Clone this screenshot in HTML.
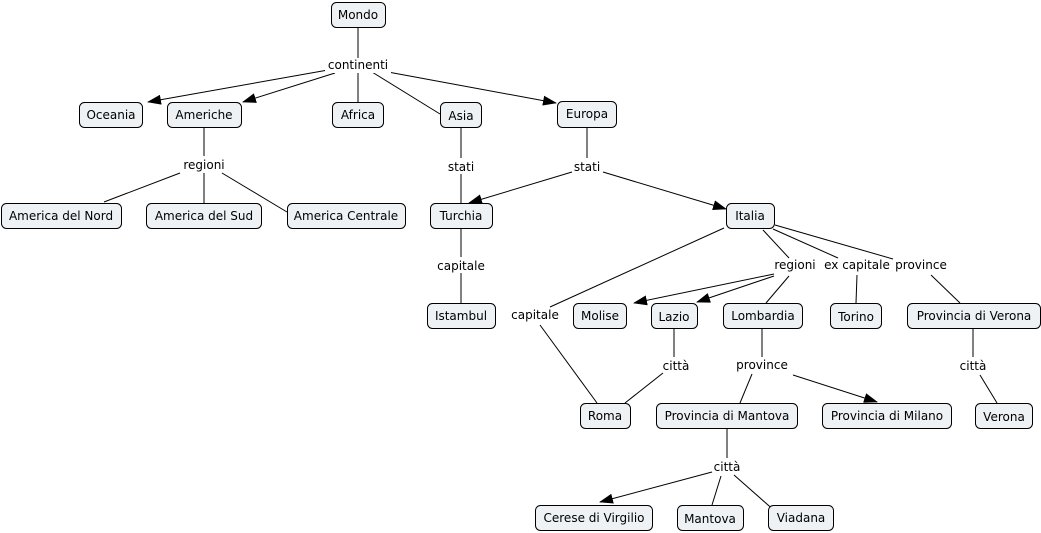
<!DOCTYPE html>
<html><head><meta charset="utf-8"><style>
html,body{margin:0;padding:0;background:#fff;}
svg{display:block;}
text{font-family:"DejaVu Sans","Liberation Sans",sans-serif;font-size:12px;fill:#000;}
.n{fill:#eef2f5;stroke:#000;stroke-width:1;}
line{stroke:#000;stroke-width:1;}
</style></head><body>
<svg width="1041" height="533" viewBox="0 0 1041 533">
<defs><marker id="a" markerWidth="14" markerHeight="10" refX="13" refY="5" orient="auto" markerUnits="userSpaceOnUse"><path d="M0,0 L14,5 L0,10 z" fill="#000"/></marker></defs>
<g>
<line x1="358" y1="27" x2="358" y2="58"/>
<line x1="328" y1="70" x2="148" y2="102" marker-end="url(#a)"/>
<line x1="335" y1="73" x2="243" y2="102" marker-end="url(#a)"/>
<line x1="358" y1="72" x2="358" y2="102"/>
<line x1="372" y1="72" x2="440" y2="114"/>
<line x1="388" y1="72" x2="556" y2="103" marker-end="url(#a)"/>
<line x1="204" y1="127" x2="204" y2="156"/>
<line x1="180" y1="173" x2="104" y2="202"/>
<line x1="204" y1="173" x2="204" y2="203"/>
<line x1="222" y1="173" x2="287" y2="212"/>
<line x1="461" y1="127" x2="461" y2="158"/>
<line x1="461" y1="174" x2="461" y2="203"/>
<line x1="587" y1="127" x2="587" y2="158"/>
<line x1="572" y1="172" x2="469" y2="203" marker-end="url(#a)"/>
<line x1="603" y1="172" x2="726" y2="209" marker-end="url(#a)"/>
<line x1="461" y1="228" x2="461" y2="257"/>
<line x1="461" y1="273" x2="461" y2="303"/>
<line x1="724" y1="228" x2="550" y2="307"/>
<line x1="540" y1="325" x2="597" y2="403"/>
<line x1="763" y1="230" x2="789" y2="258"/>
<line x1="773" y1="229" x2="838" y2="258"/>
<line x1="775" y1="225" x2="893" y2="259"/>
<line x1="774" y1="274" x2="634" y2="303" marker-end="url(#a)"/>
<line x1="774" y1="276" x2="697" y2="302" marker-end="url(#a)"/>
<line x1="789" y1="276" x2="766" y2="303"/>
<line x1="857" y1="275" x2="856" y2="303"/>
<line x1="931" y1="275" x2="960" y2="303"/>
<line x1="674" y1="328" x2="674" y2="357"/>
<line x1="663" y1="373" x2="625" y2="403"/>
<line x1="762" y1="328" x2="762" y2="357"/>
<line x1="752" y1="374" x2="740" y2="403"/>
<line x1="793" y1="375" x2="877" y2="402" marker-end="url(#a)"/>
<line x1="973" y1="328" x2="973" y2="357"/>
<line x1="980" y1="375" x2="997" y2="403"/>
<line x1="727" y1="428" x2="727" y2="458"/>
<line x1="712" y1="472" x2="600" y2="502" marker-end="url(#a)"/>
<line x1="721" y1="476" x2="712" y2="505"/>
<line x1="734" y1="475" x2="776" y2="512"/>
</g>
<g fill="#fff">
<rect x="325" y="58" width="66" height="15" fill="#fff"/>
</g>
<g text-anchor="middle">
<text x="358" y="69">continenti</text>
<text x="204" y="169">regioni</text>
<text x="461" y="171">stati</text>
<text x="587" y="171">stati</text>
<text x="461" y="270">capitale</text>
<text x="535" y="319">capitale</text>
<text x="795" y="269">regioni</text>
<text x="857" y="269">ex capitale</text>
<text x="921" y="269">province</text>
<text x="676" y="370">città</text>
<text x="762" y="369">province</text>
<text x="973" y="370">città</text>
<text x="727" y="471">città</text>
</g>
<g>
<rect class="n" x="331.5" y="2.5" width="54" height="25" rx="5"/>
<rect class="n" x="79.5" y="102.5" width="63" height="25" rx="5"/>
<rect class="n" x="167.5" y="102.5" width="74" height="25" rx="5"/>
<rect class="n" x="332.5" y="102.5" width="51" height="25" rx="5"/>
<rect class="n" x="440.5" y="102.5" width="41" height="25" rx="5"/>
<rect class="n" x="557.5" y="101.5" width="59" height="26" rx="5"/>
<rect class="n" x="1.5" y="203.5" width="120" height="25" rx="5"/>
<rect class="n" x="146.5" y="203.5" width="115" height="25" rx="5"/>
<rect class="n" x="287.5" y="203.5" width="118" height="25" rx="5"/>
<rect class="n" x="430.5" y="203.5" width="62" height="25" rx="5"/>
<rect class="n" x="726.5" y="203.5" width="48" height="25" rx="5"/>
<rect class="n" x="427.5" y="303.5" width="68" height="25" rx="5"/>
<rect class="n" x="573.5" y="303.5" width="53" height="25" rx="5"/>
<rect class="n" x="651.5" y="303.5" width="46" height="25" rx="5"/>
<rect class="n" x="723.5" y="303.5" width="79" height="25" rx="5"/>
<rect class="n" x="830.5" y="303.5" width="51" height="25" rx="5"/>
<rect class="n" x="907.5" y="303.5" width="133" height="25" rx="5"/>
<rect class="n" x="580.5" y="403.5" width="50" height="25" rx="5"/>
<rect class="n" x="656.5" y="403.5" width="141" height="25" rx="5"/>
<rect class="n" x="822.5" y="403.5" width="129" height="25" rx="5"/>
<rect class="n" x="975.5" y="403.5" width="57" height="25" rx="5"/>
<rect class="n" x="535.5" y="505.5" width="117" height="25" rx="5"/>
<rect class="n" x="677.5" y="505.5" width="66" height="25" rx="5"/>
<rect class="n" x="768.5" y="505.5" width="65" height="25" rx="5"/>
</g>
<g text-anchor="middle">
<text x="358" y="19">Mondo</text>
<text x="111" y="119">Oceania</text>
<text x="204" y="119">Americhe</text>
<text x="358" y="119">Africa</text>
<text x="461" y="120">Asia</text>
<text x="587" y="118">Europa</text>
<text x="61" y="220">America del Nord</text>
<text x="204" y="220">America del Sud</text>
<text x="346" y="220">America Centrale</text>
<text x="461" y="220">Turchia</text>
<text x="750" y="220">Italia</text>
<text x="461" y="320">Istambul</text>
<text x="600" y="320">Molise</text>
<text x="674" y="321">Lazio</text>
<text x="763" y="320">Lombardia</text>
<text x="856" y="321">Torino</text>
<text x="974" y="320">Provincia di Verona</text>
<text x="605" y="420">Roma</text>
<text x="727" y="420">Provincia di Mantova</text>
<text x="887" y="420">Provincia di Milano</text>
<text x="1004" y="421">Verona</text>
<text x="594" y="522">Cerese di Virgilio</text>
<text x="710" y="523">Mantova</text>
<text x="801" y="522">Viadana</text>
</g>
</svg>
</body></html>
